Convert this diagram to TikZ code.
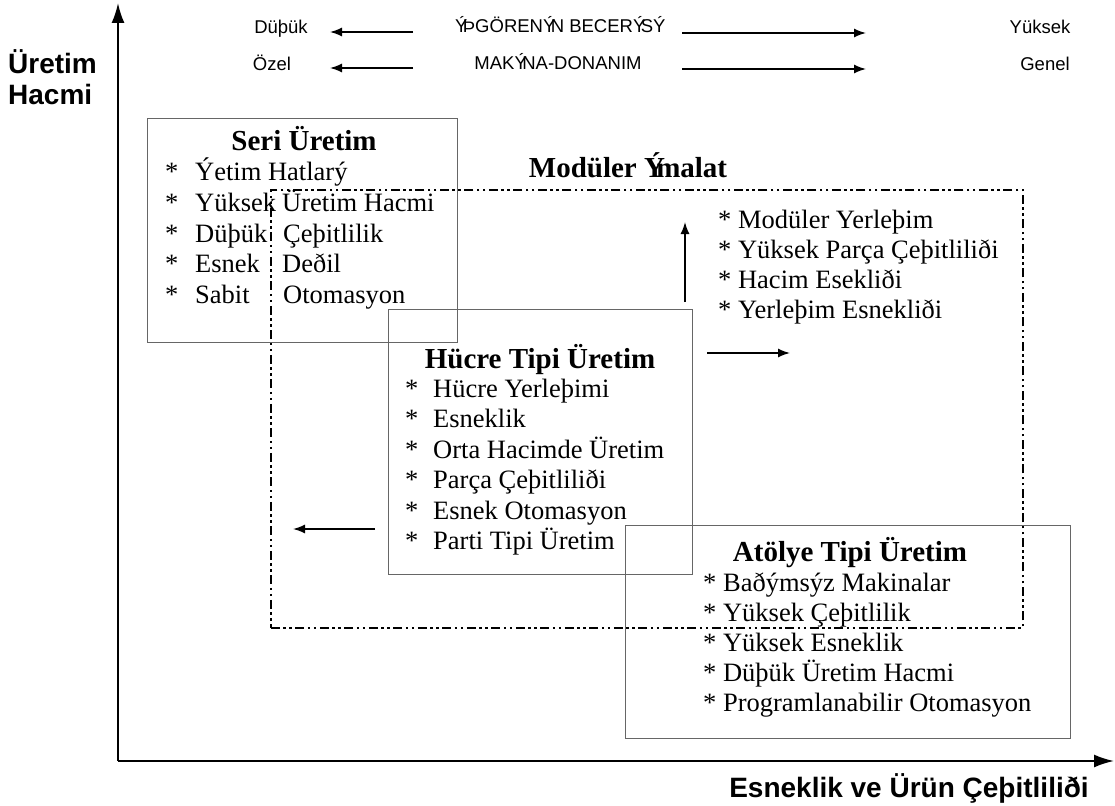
\documentclass[tikz,border=0pt]{standalone}
\usepackage{fontspec}
\setmainfont{Liberation Serif}
\setsansfont{Liberation Sans}
\usetikzlibrary{arrows.meta}
\newcommand{\Yov}{\makebox[0.42em][l]{Ý}}
\tikzset{
  itm/.style={font=\fontsize{26.5}{30}\selectfont, anchor=base west, inner sep=0pt},
  ttl/.style={font=\bfseries\fontsize{29}{33}\selectfont, anchor=base, inner sep=0pt},
  boxr/.style={draw=black!60, line width=1pt, inner sep=0pt},
  dbox/.style={draw=black, line width=1.7pt, inner sep=0pt, dash pattern=on 9pt off 3.5pt on 2.5pt off 3.5pt on 2.5pt off 3.5pt},
  arr/.style={-{Latex[length=12pt,width=9pt]}, line width=1.5pt},
  axisl/.style={-{Latex[length=20pt,width=13pt]}, line width=2pt},
  toptxt/.style={font=\sffamily\fontsize{18.5}{21}\selectfont, inner sep=0pt, anchor=base},
  axl/.style={font=\sffamily\bfseries\fontsize{28}{31}\selectfont, inner sep=0pt},
}
\begin{document}
\begin{tikzpicture}[x=1pt,y=-1pt]
\useasboundingbox (0,0) rectangle (1115,805);

% axes
\coordinate (O) at (118,761);
\coordinate (ytop) at (118,3);
\coordinate (xend) at (1114,761);
\draw[axisl] (O) -- (ytop);
\draw[axisl] (O) -- (xend);
\node[axl, anchor=west, align=left] (ylab) at (8,77) {Üretim\\Hacmi};
\node[axl] (xlab) at (909,788) {Esneklik ve Ürün Çeþitliliði};

% top rows
\node[toptxt] (t1l) at (281,34) {Düþük};
\node[toptxt] (t1m) at (558,33) {\Yov ÞGÖREN\Yov N BECER\Yov S\Yov};
\node[toptxt] (t1r) at (1040,34) {Yüksek};
\node[toptxt] (t2l) at (272,71) {Özel};
\node[toptxt] (t2m) at (558,70) {MAK\Yov NA-DONANIM};
\node[toptxt] (t2r) at (1045,71) {Genel};
\coordinate (a1s) at (413,32); \coordinate (a1e) at (330,32);
\coordinate (b1s) at (682,33); \coordinate (b1e) at (866,33);
\coordinate (a2s) at (413,68); \coordinate (a2e) at (330,68);
\coordinate (b2s) at (682,69); \coordinate (b2e) at (866,69);
\draw[arr] (a1s) -- (a1e);
\draw[arr] (b1s) -- (b1e);
\draw[arr] (a2s) -- (a2e);
\draw[arr] (b2s) -- (b2e);

% Modular dashed box
\node[dbox, anchor=north west, minimum width=752pt, minimum height=438pt] (mod) at (270,189) {};
\node[ttl] (modt) at (628,178) {Modüler \Yov malat};
\node[itm] (m1) at (718,228) {* Modüler Yerleþim};
\node[itm] (m2) at (718,258) {* Yüksek Parça Çeþitliliði};
\node[itm] (m3) at (718,288) {* Hacim Esekliði};
\node[itm] (m4) at (718,318) {* Yerleþim Esnekliði};

% Seri box
\node[boxr, anchor=north west, minimum width=310pt, minimum height=224pt] (seri) at (147,118) {};
\node[ttl] (serit) at (304,151) {Seri Üretim};
\node[itm] (s1) at (165,181) {\makebox[30pt][l]{*}Ýetim Hatlarý};
\node[itm] (s2) at (165,211.5) {\makebox[30pt][l]{*}\makebox[87pt][l]{Yüksek}Üretim Hacmi};
\node[itm] (s3) at (165,242) {\makebox[30pt][l]{*}\makebox[88pt][l]{Düþük}Çeþitlilik};
\node[itm] (s4) at (165,272.5) {\makebox[30pt][l]{*}\makebox[87pt][l]{Esnek}Deðil};
\node[itm] (s5) at (165,303) {\makebox[30pt][l]{*}\makebox[88pt][l]{Sabit}Otomasyon};

% Hucre box
\node[boxr, anchor=north west, minimum width=304pt, minimum height=265pt] (hucre) at (388,309) {};
\node[ttl] (hucret) at (540,368) {Hücre Tipi Üretim};
\node[itm] (h1) at (405,397) {\makebox[28pt][l]{*}Hücre Yerleþimi};
\node[itm] (h2) at (405,427.5) {\makebox[28pt][l]{*}Esneklik};
\node[itm] (h3) at (405,458) {\makebox[28pt][l]{*}Orta Hacimde Üretim};
\node[itm] (h4) at (405,488.5) {\makebox[28pt][l]{*}Parça Çeþitliliði};
\node[itm] (h5) at (405,519) {\makebox[28pt][l]{*}Esnek Otomasyon};
\node[itm] (h6) at (405,549.5) {\makebox[28pt][l]{*}Parti Tipi Üretim};

% Atolye box
\node[boxr, anchor=north west, minimum width=445pt, minimum height=213pt] (atol) at (625,525) {};
\node[ttl] (atolt) at (850,561) {Atölye Tipi Üretim};
\node[itm] (at1) at (703,591) {* Baðýmsýz Makinalar};
\node[itm] (at2) at (703,621) {* Yüksek Çeþitlilik};
\node[itm] (at3) at (703,651) {* Yüksek Esneklik};
\node[itm] (at4) at (703,681) {* Düþük Üretim Hacmi};
\node[itm] (at5) at (703,711) {* Programlanabilir Otomasyon};

% arrows around Hucre box
\coordinate (up0) at (685,302); \coordinate (up1) at (685,222);
\coordinate (rt0) at (707,353); \coordinate (rt1) at (790,353);
\coordinate (lf0) at (375,529); \coordinate (lf1) at (293,529);
\draw[arr] (up0) -- (up1);
\draw[arr] (rt0) -- (rt1);
\draw[arr] (lf0) -- (lf1);
\end{tikzpicture}
\end{document}
